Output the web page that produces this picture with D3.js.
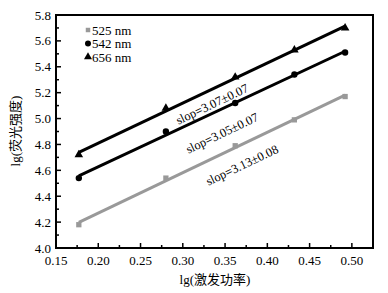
<!DOCTYPE html>
<html>
<head>
<meta charset="utf-8">
<script src="https://cdn.jsdelivr.net/npm/d3@7"></script>
<style>
  body { margin: 0; background: #fff; }
  text { font-family: "Liberation Serif", "Times New Roman", "Noto Sans CJK SC", serif; }
</style>
</head>
<body>
<div id="chart"></div>
<script>
// data
const power = [0.177, 0.28, 0.362, 0.432, 0.492];
const i525 = [4.18, 4.54, 4.79, 4.99, 5.17];
const i542 = [4.54, 4.90, 5.12, 5.34, 5.51];
const i656 = [4.72, 5.08, 5.32, 5.53, 5.70];
const seriesNames = ["525 nm", "542 nm", "656 nm"];
const slopeLabels = ["slop=3.13±0.08", "slop=3.05±0.07", "slop=3.07±0.07"];
const xTicks = [0.15, 0.20, 0.25, 0.30, 0.35, 0.40, 0.45, 0.50];
const yTicks = [4.0, 4.2, 4.4, 4.6, 4.8, 5.0, 5.2, 5.4, 5.6, 5.8];

const width = 388, height = 293;
const margin = {top: 15, right: 15, bottom: 45, left: 56};

const svg = d3.select("#chart").append("svg")
  .attr("width", width)
  .attr("height", height);

const x = d3.scaleLinear()
  .domain([0.15, 0.525])
  .range([margin.left, width - margin.right]);

const y = d3.scaleLinear()
  .domain([4.0, 5.8])
  .range([height - margin.bottom, margin.top]);

const series = [
  {name: seriesNames[0], values: i525, color: "#999", symbol: d3.symbolSquare, size: 28, label: slopeLabels[0], lx: 242, ly: 165},
  {name: seriesNames[1], values: i542, color: "#000", symbol: d3.symbolCircle, size: 32, label: slopeLabels[1], lx: 222, ly: 133},
  {name: seriesNames[2], values: i656, color: "#000", symbol: d3.symbolTriangle, size: 32, label: slopeLabels[2], lx: 212, ly: 104}
];

// least squares fit
function fit(xs, ys) {
  const mx = d3.mean(xs), my = d3.mean(ys);
  const b = d3.sum(xs, (v, i) => (v - mx) * (ys[i] - my)) / d3.sum(xs, v => (v - mx) ** 2);
  return {b: b, a: my - b * mx};
}

// axes with inward ticks
const x0 = margin.left, x1 = width - margin.right;
const y0 = height - margin.bottom, y1 = margin.top;

const xMinor = d3.range(0.175, 0.52, 0.05);
const yMinor = d3.range(4.1, 5.8, 0.2);

const g = svg.append("g").attr("stroke", "#000").attr("stroke-width", 1.5);
g.selectAll(".xt").data(xTicks).join("line")
  .attr("x1", d => x(d)).attr("x2", d => x(d))
  .attr("y1", y0).attr("y2", y0 - 5);
g.selectAll(".xm").data(xMinor).join("line")
  .attr("x1", d => x(d)).attr("x2", d => x(d))
  .attr("y1", y0).attr("y2", y0 - 3);
g.selectAll(".yt").data(yTicks).join("line")
  .attr("x1", x0).attr("x2", x0 + 5)
  .attr("y1", d => y(d)).attr("y2", d => y(d));
g.selectAll(".ym").data(yMinor).join("line")
  .attr("x1", x0).attr("x2", x0 + 3)
  .attr("y1", d => y(d)).attr("y2", d => y(d));

svg.append("rect")
  .attr("x", x0).attr("y", y1)
  .attr("width", x1 - x0).attr("height", y0 - y1)
  .attr("fill", "none").attr("stroke", "#000").attr("stroke-width", 2);

svg.append("g").selectAll("text").data(xTicks).join("text")
  .attr("x", d => x(d)).attr("y", y0 + 17)
  .attr("text-anchor", "middle")
  .attr("font-size", 13)
  .text(d => d3.format(".2f")(d));

svg.append("g").selectAll("text").data(yTicks).join("text")
  .attr("x", x0 - 5).attr("y", d => y(d) + 4.5)
  .attr("text-anchor", "end")
  .attr("font-size", 13)
  .text(d => d3.format(".1f")(d));

// lines and markers
series.forEach(s => {
  const f = fit(power, s.values);
  const xa = power[0], xb = power[power.length - 1];
  svg.append("line")
    .attr("x1", x(xa)).attr("y1", y(f.a + f.b * xa))
    .attr("x2", x(xb)).attr("y2", y(f.a + f.b * xb))
    .attr("stroke", s.color).attr("stroke-width", 3);

  svg.append("g").selectAll("path").data(power).join("path")
    .attr("transform", (d, i) => `translate(${x(d)},${y(s.values[i])})`)
    .attr("d", d3.symbol(s.symbol, s.size))
    .attr("fill", s.color);

  svg.append("text")
    .attr("transform", `translate(${s.lx},${s.ly}) rotate(-25.5)`)
    .attr("text-anchor", "middle")
    .attr("dy", "0.35em")
    .attr("font-size", 12.5)
    .text(s.label);
});

// legend
const legend = svg.append("g");
series.forEach((s, i) => {
  const ly = 30 + i * 13.5;
  legend.append("path")
    .attr("transform", `translate(88,${ly})`)
    .attr("d", d3.symbol(s.symbol, i === 0 ? 20 : 28))
    .attr("fill", s.color);
  legend.append("text")
    .attr("x", 92).attr("y", ly + 4.5)
    .attr("font-size", 13)
    .text(s.name);
});

// axis titles
svg.append("text")
  .attr("x", 215).attr("y", 284)
  .attr("text-anchor", "middle")
  .attr("font-size", 13)
  .text("lg(激发功率)");

svg.append("text")
  .attr("transform", "translate(20,131) rotate(-90)")
  .attr("text-anchor", "middle")
  .attr("font-size", 13)
  .text("lg(荧光强度)");
</script>
</body>
</html>
